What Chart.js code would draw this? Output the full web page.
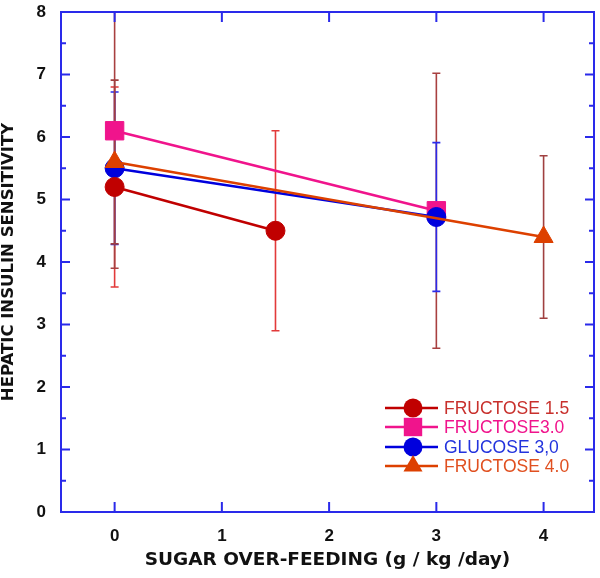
<!DOCTYPE html>
<html>
<head>
<meta charset="utf-8">
<script src="https://cdn.jsdelivr.net/npm/chart.js@4.4.1/dist/chart.umd.min.js"></script>
<style>
  html, body { margin: 0; padding: 0; background: #fff; }
  #wrap { width: 600px; height: 578px; }
</style>
</head>
<body>
<div id="wrap"><canvas id="c" width="600" height="578"></canvas></div>
<script>
// values
const xTicks = [0, 1, 2, 3, 4];
const yTicks = [0, 1, 2, 3, 4, 5, 6, 7, 8];

const fru15X = [0, 1.5];
const fru15Y = [5.2, 4.5];
const fru15Err = [1.6, 1.6];

const fru30X = [0, 3];
const fru30Y = [6.1, 4.82];
const fru30Err = [2.2, 2.2];

const glu30X = [0, 3];
const glu30Y = [5.5, 4.72];
const glu30Err = [1.22, 1.19];

const fru40X = [0, 4];
const fru40Y = [5.6, 4.4];
const fru40Err = [1.31, 1.3];

const frameColor = '#2a2aea';

function pts(xs, ys) {
    return xs.map((x, i) => ({ x: x, y: ys[i] }));
}

const series = [
    { label: 'FRUCTOSE 1.5', xs: fru15X, ys: fru15Y, err: fru15Err, color: '#c00000', errColor: '#e23a3a', text: '#c8302c', style: 'circle', r: 9.5, order: 1 },
    { label: 'FRUCTOSE3.0', xs: fru30X, ys: fru30Y, err: fru30Err, color: '#f0148c', errColor: '#a84040', text: '#f0148c', style: 'rect', r: 13, order: 3 },
    { label: 'GLUCOSE 3,0', xs: glu30X, ys: glu30Y, err: glu30Err, color: '#0000dd', errColor: '#2a2aea', text: '#2233dd', style: 'circle', r: 9.5, order: 2 },
    { label: 'FRUCTOSE 4.0', xs: fru40X, ys: fru40Y, err: fru40Err, color: '#dd4000', errColor: '#a04040', text: '#e05020', style: 'triangle', r: 11, order: 0 }
];

const errorBars = {
    id: 'errorBars',
    beforeDatasetsDraw(chart) {
        const { ctx, chartArea: a, scales: { x, y } } = chart;
        ctx.save();
        ctx.beginPath();
        ctx.rect(a.left, a.top, a.right - a.left, a.bottom - a.top);
        ctx.clip();
        ctx.lineWidth = 1.6;
        series.forEach(s => {
            ctx.strokeStyle = s.errColor;
            s.xs.forEach((xv, i) => {
                const px = x.getPixelForValue(xv);
                const top = y.getPixelForValue(s.ys[i] + s.err[i]);
                const bot = y.getPixelForValue(s.ys[i] - s.err[i]);
                ctx.beginPath();
                ctx.moveTo(px, top); ctx.lineTo(px, bot);
                ctx.moveTo(px - 4, top); ctx.lineTo(px + 4, top);
                ctx.moveTo(px - 4, bot); ctx.lineTo(px + 4, bot);
                ctx.stroke();
            });
        });
        ctx.restore();
    }
};

const frame = {
    id: 'frame',
    afterDraw(chart) {
        const { ctx, chartArea: a, scales: { x, y } } = chart;
        ctx.save();
        ctx.strokeStyle = frameColor;
        ctx.lineWidth = 2;
        ctx.strokeRect(a.left, a.top, a.right - a.left, a.bottom - a.top);
        ctx.beginPath();
        xTicks.forEach(v => {
            const px = x.getPixelForValue(v);
            ctx.moveTo(px, a.bottom); ctx.lineTo(px, a.bottom - 10);
            ctx.moveTo(px, a.top); ctx.lineTo(px, a.top + 10);
        });
        for (let v = 0; v <= 8; v += 0.5) {
            const py = y.getPixelForValue(v);
            const len = Number.isInteger(v) ? 9 : 5;
            ctx.moveTo(a.left, py); ctx.lineTo(a.left + len, py);
            ctx.moveTo(a.right, py); ctx.lineTo(a.right - len, py);
        }
        ctx.stroke();

        // legend, drawn inside the plot like the original
        const lx = 385, lx2 = 438, mx = 413, tx = 444;
        const rows = [408, 427, 447, 466];
        ctx.font = '17.5px "Liberation Sans", Arial, sans-serif';
        ctx.textBaseline = 'middle';
        ctx.textAlign = 'left';
        series.forEach((s, i) => {
            const ry = rows[i];
            ctx.strokeStyle = s.color;
            ctx.lineWidth = 2.5;
            ctx.beginPath();
            ctx.moveTo(lx, ry); ctx.lineTo(lx2, ry);
            ctx.stroke();
            ctx.fillStyle = s.color;
            ctx.strokeStyle = s.color;
            ctx.lineWidth = 1;
            Chart.helpers.drawPoint(ctx, { pointStyle: s.style, rotation: 0, radius: s.r }, mx, ry);
            ctx.fillStyle = s.text;
            ctx.fillText(s.label, tx, ry + 1);
        });
        ctx.restore();
    }
};

const tickFont = { family: '"Liberation Sans", Arial, sans-serif', size: 17, weight: 'bold' };

new Chart(document.getElementById('c'), {
    type: 'line',
    data: {
        datasets: series.map(s => ({
            label: s.label,
            data: pts(s.xs, s.ys),
            borderColor: s.color,
            backgroundColor: s.color,
            borderWidth: 2.5,
            pointStyle: s.style,
            pointRadius: s.r,
            pointBorderWidth: 1,
            pointBackgroundColor: s.color,
            pointBorderColor: s.color,
            order: s.order,
            tension: 0,
            clip: false
        }))
    },
    options: {
        responsive: false,
        animation: false,
        devicePixelRatio: 1,
        layout: { autoPadding: false, padding: { top: 12, right: 6, left: 0, bottom: 0 } },
        plugins: { legend: { display: false }, tooltip: { enabled: false } },
        scales: {
            x: {
                type: 'linear',
                min: -0.5,
                max: 4.47,
                afterBuildTicks: s => { s.ticks = xTicks.map(v => ({ value: v })); },
                afterFit: s => { s.height = 66; s.paddingLeft = 0; s.paddingRight = 0; },
                grid: { display: false, drawTicks: false },
                border: { display: false },
                ticks: { color: '#111', font: tickFont, padding: 14 },
                title: {
                    display: true,
                    text: 'SUGAR OVER-FEEDING (g / kg /day)',
                    color: '#111',
                    font: { family: '"DejaVu Sans", sans-serif', size: 18.5, weight: 'bold', lineHeight: 1.2 },
                    padding: { top: 0, bottom: 7 }
                }
            },
            y: {
                min: 0,
                max: 8,
                afterBuildTicks: s => { s.ticks = yTicks.map(v => ({ value: v })); },
                afterFit: s => { s.width = 61; s.paddingTop = 0; s.paddingBottom = 0; },
                grid: { display: false, drawTicks: false },
                border: { display: false },
                ticks: { color: '#111', font: tickFont, padding: 15 },
                title: {
                    display: true,
                    text: 'HEPATIC INSULIN SENSITIVITY',
                    color: '#111',
                    font: { family: '"DejaVu Sans", sans-serif', size: 16.5, weight: 'bold', lineHeight: 1 },
                    padding: { top: 0, bottom: 0 }
                }
            }
        }
    },
    plugins: [errorBars, frame]
});
</script>
</body>
</html>
